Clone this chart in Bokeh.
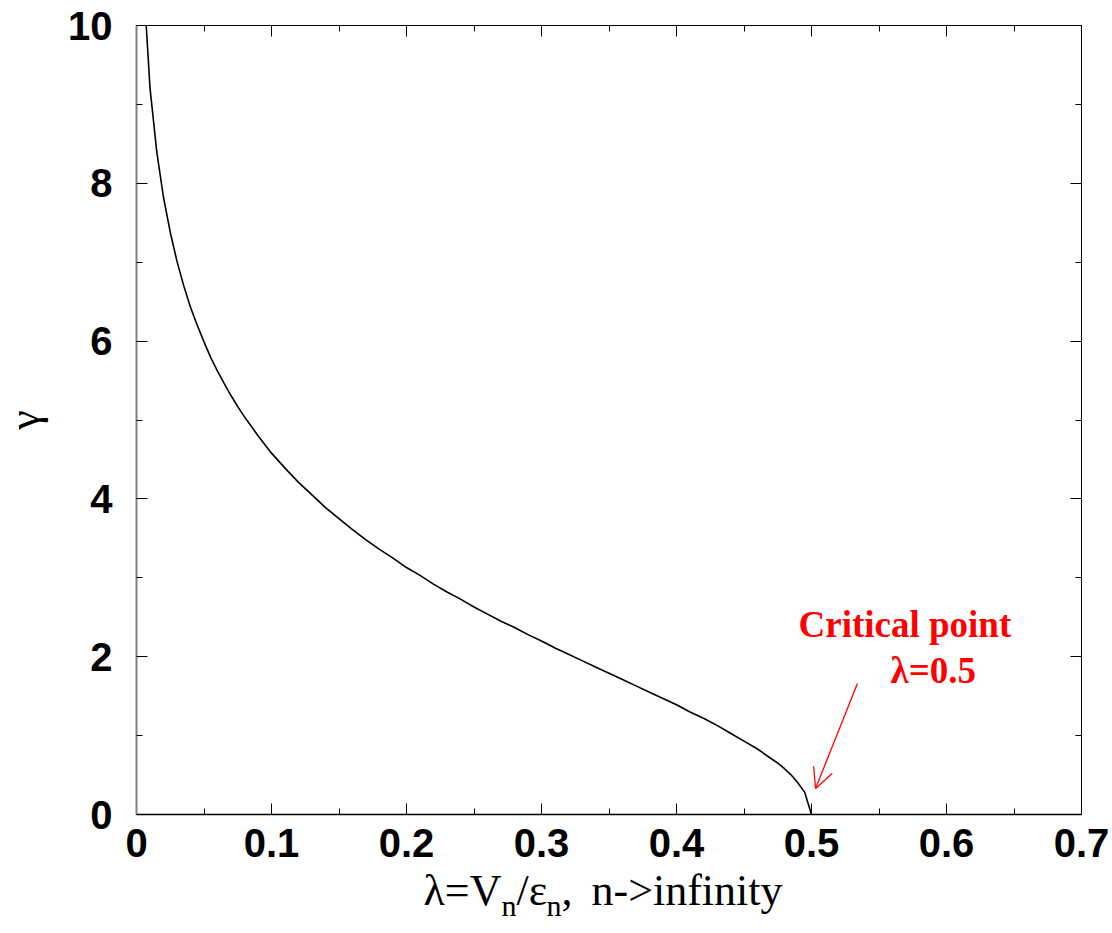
from bokeh.plotting import figure
from bokeh.models import Range1d, LinearAxis, FixedTicker, Label, Arrow, OpenHead
from bokeh.embed import file_html
from bokeh.resources import INLINE

# ---- data ----
lam = [0.0072, 0.010, 0.015, 0.020, 0.025, 0.030, 0.035, 0.040, 0.045, 0.050,
       0.055, 0.060, 0.065, 0.070, 0.075, 0.080, 0.085, 0.090, 0.095, 0.100,
       0.11, 0.12, 0.13, 0.14, 0.15, 0.16, 0.17, 0.18, 0.19, 0.20,
       0.21, 0.22, 0.23, 0.24, 0.25, 0.26, 0.27, 0.28, 0.29, 0.30,
       0.31, 0.32, 0.33, 0.34, 0.35, 0.36, 0.37, 0.38, 0.39, 0.40,
       0.41, 0.42, 0.43, 0.44, 0.45, 0.46, 0.47, 0.475, 0.48, 0.485,
       0.49, 0.495, 0.50]
gamma = [10.00, 9.21, 8.40, 7.82, 7.38, 7.01, 6.70, 6.43, 6.20, 5.99,
         5.79, 5.62, 5.46, 5.31, 5.17, 5.04, 4.92, 4.80, 4.69, 4.58,
         4.39, 4.21, 4.05, 3.89, 3.75, 3.61, 3.48, 3.36, 3.25, 3.13,
         3.03, 2.92, 2.82, 2.73, 2.63, 2.54, 2.45, 2.37, 2.28, 2.20,
         2.11, 2.03, 1.95, 1.87, 1.79, 1.71, 1.63, 1.55, 1.47, 1.39,
         1.30, 1.22, 1.13, 1.03, 0.93, 0.83, 0.71, 0.65, 0.58, 0.50,
         0.40, 0.28, 0.0]

x_ticks = [0.0, 0.1, 0.2, 0.3, 0.4, 0.5, 0.6, 0.7]
x_tick_labels = ["0", "0.1", "0.2", "0.3", "0.4", "0.5", "0.6", "0.7"]
x_minor = [0.05, 0.15, 0.25, 0.35, 0.45, 0.55, 0.65]
y_ticks = [0, 2, 4, 6, 8, 10]
y_tick_labels = ["0", "2", "4", "6", "8", "10"]
y_minor = [1, 3, 5, 7, 9]
x_lo, x_hi = 0.0, 0.7
y_lo, y_hi = 0.0, 10.0

critical_lambda = 0.5
note_lines = ["Critical point", "\u03bb=0.5"]

TICK_FONT = "Liberation Sans"
SERIF = "Liberation Serif"

# layout in pixels: the boxed data area inside a 1112x933 page
W, H = 1112, 933
BOX_L, BOX_T, BOX_R, BOX_B = 136, 25, 1081, 814
PX_PER_X = (BOX_R - BOX_L) / (x_hi - x_lo)
PX_PER_Y = (BOX_B - BOX_T) / (y_hi - y_lo)


def px_to_x(px):
    return x_lo + (px - BOX_L) / PX_PER_X


def py_to_y(py):
    return y_lo + (BOX_B - py) / PX_PER_Y


# the frame covers the whole page so that every text stays inside it
p = figure(frame_width=W, frame_height=H,
           x_range=Range1d(px_to_x(0), px_to_x(W)),
           y_range=Range1d(py_to_y(H), py_to_y(0)),
           output_backend="svg", toolbar_location=None,
           min_border_left=0, min_border_right=0,
           min_border_top=0, min_border_bottom=0)
p.xgrid.grid_line_color = None
p.ygrid.grid_line_color = None
p.outline_line_color = None
p.background_fill_color = "white"
p.border_fill_color = "white"

xt = FixedTicker(ticks=x_ticks, minor_ticks=x_minor)
yt = FixedTicker(ticks=y_ticks, minor_ticks=y_minor)


def style_axis(ax, ticker, labels, ticks, show_labels, line_color, line_width):
    ax.ticker = ticker
    ax.major_tick_in = 11
    ax.major_tick_out = 0
    ax.minor_tick_in = 6
    ax.minor_tick_out = 0
    ax.major_tick_line_color = "black"
    ax.minor_tick_line_color = "black"
    ax.major_tick_line_width = 1
    ax.minor_tick_line_width = 1
    ax.axis_line_color = line_color
    ax.axis_line_width = line_width
    if show_labels:
        ax.major_label_overrides = {t: l for t, l in zip(ticks, labels)}
        ax.major_label_text_font = TICK_FONT
        ax.major_label_text_font_style = "bold"
        ax.major_label_text_font_size = "40px"
        ax.major_label_text_color = "black"
    else:
        ax.major_label_text_color = None
        ax.major_label_standoff = 0


xb = p.xaxis[0]
yl = p.yaxis[0]
style_axis(xb, xt, x_tick_labels, x_ticks, True, "black", 1.5)
style_axis(yl, yt, y_tick_labels, y_ticks, True, "#808080", 2)
xb.fixed_location = y_lo
xb.bounds = (x_lo, x_hi)
xb.major_label_standoff = 14
xb.axis_label = None
yl.fixed_location = x_lo
yl.bounds = (y_lo, y_hi)
yl.major_label_standoff = 24
yl.axis_label = "\u03b3"
yl.axis_label_text_font = SERIF
yl.axis_label_text_font_style = "normal"
yl.axis_label_text_font_size = "44px"
yl.axis_label_text_color = "black"
yl.axis_label_standoff = 16

top = LinearAxis(fixed_location=y_hi, bounds=(x_lo, x_hi))
right = LinearAxis(fixed_location=x_hi, bounds=(y_lo, y_hi))
style_axis(top, xt, x_tick_labels, x_ticks, False, "black", 1)
style_axis(right, yt, y_tick_labels, y_ticks, False, "black", 1)
p.add_layout(top, "above")
p.add_layout(right, "right")

# curve
p.line(lam, gamma, line_color="black", line_width=1.6)

# arrow to the critical point
p.add_layout(Arrow(end=OpenHead(size=20, line_color="red", line_width=1.3),
                   x_start=critical_lambda + 0.034, y_start=1.66,
                   x_end=critical_lambda + 0.003, y_end=0.33,
                   line_color="red", line_width=1.3))

# annotation text
p.add_layout(Label(x=px_to_x(798), y=py_to_y(624), text=note_lines[0], text_color="red",
                   text_font=SERIF, text_font_style="bold", text_font_size="37px",
                   text_baseline="alphabetic", text_align="left"))
p.add_layout(Label(x=px_to_x(890), y=py_to_y(670), text=note_lines[1], text_color="red",
                   text_font=SERIF, text_font_style="bold", text_font_size="37px",
                   text_baseline="alphabetic", text_align="left"))

# x-axis title with subscripts, placed (in pixels) below the box
BASE, SUB = 890, 905
title_parts = [
    ("\u03bb=V", 423, BASE, "44px"),
    ("n", 501, SUB, "30px"),
    ("/\u03b5", 516, BASE, "44px"),
    ("n", 546, SUB, "30px"),
    (",", 561, BASE, "44px"),
    ("n->infinity", 591, BASE, "44px"),
]
for txt, px, py, fs in title_parts:
    p.add_layout(Label(x=px_to_x(px), y=py_to_y(py),
                       text=txt, text_color="black",
                       text_font=SERIF, text_font_size=fs,
                       text_baseline="alphabetic", text_align="left"))

open("out.html", "w").write(file_html(p, INLINE))
